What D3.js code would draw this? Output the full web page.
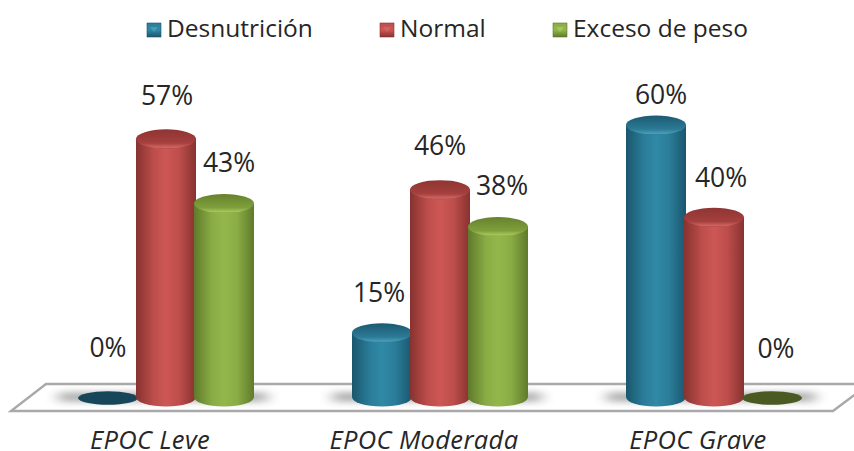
<!DOCTYPE html>
<html>
<head>
<meta charset="utf-8">
<script src="https://cdn.jsdelivr.net/npm/d3@7/dist/d3.min.js"></script>
<style>
  html, body { margin: 0; padding: 0; background: #fff; }
  svg { display: block; }
  text { font-family: "Open Sans", "Noto Sans", sans-serif; fill: #262626; }
</style>
</head>
<body>
<svg id="chart" width="854" height="451"></svg>
<script>
const categories = ["EPOC Leve", "EPOC Moderada", "EPOC Grave"];
const seriesNames = ["Desnutrición", "Normal", "Exceso de peso"];
const desnutricion = [0, 15, 60];
const normal = [57, 46, 40];
const excesoDePeso = [43, 38, 0];
const seriesValues = [desnutricion, normal, excesoDePeso];

// Per-series shading: edge, mid, light body tones, top-cap tones, flat base tone
const palette = [
  { edge: "#1b566d", mid: "#2a7d99", light: "#3089a6", capA: "#1d5a72", capB: "#2b7a96", capC: "#4a9cb8", flat: "#17465a" },
  { edge: "#873230", mid: "#bd4e4b", light: "#cd5755", capA: "#8e3533", capB: "#a5403e", capC: "#cf6664", flat: "#7a2d2b" },
  { edge: "#5f7a2b", mid: "#8aac45", light: "#94b74c", capA: "#66822e", capB: "#7f9f3c", capC: "#a8c95c", flat: "#4a5a22" }
];

const svg = d3.select("#chart");
const defs = svg.append("defs");

const x0 = d3.scaleBand().domain(d3.range(categories.length)).range([29, 851]);
const x1 = d3.scaleBand().domain(d3.range(seriesNames.length)).range([50, 224]);
const y = d3.scaleLinear().domain([0, 60]).range([402, 125]);
const baseY = 397;   // centre of the column feet on the floor
const capRy = 9.5;
const barW = 60;

palette.forEach((p, i) => {
  const body = defs.append("linearGradient").attr("id", "body" + i);
  [[0, p.edge], [0.3, p.mid], [0.5, p.light], [0.72, p.mid], [1, p.edge]].forEach(([o, c]) =>
    body.append("stop").attr("offset", o).attr("stop-color", c));
  const cap = defs.append("linearGradient").attr("id", "cap" + i).attr("x2", 0).attr("y2", 1);
  [[0, p.capA], [0.72, p.capB], [0.95, p.capC], [1, p.capB]].forEach(([o, c]) =>
    cap.append("stop").attr("offset", o).attr("stop-color", c));
  const swatch = defs.append("linearGradient").attr("id", "swatch" + i).attr("x2", 0).attr("y2", 1);
  [[0, p.mid], [0.5, p.light], [1, p.edge]].forEach(([o, c]) =>
    swatch.append("stop").attr("offset", o).attr("stop-color", c));
});
defs.append("filter").attr("id", "soft").attr("x", "-20%").attr("width", "140%").attr("y", "-80%").attr("height", "260%")
  .append("feGaussianBlur").attr("stdDeviation", "7 3");

const floorPts = [[46, 384], [869, 384], [833, 411], [11, 411]];
defs.append("clipPath").attr("id", "floorClip").append("path").attr("d", d3.line()(floorPts) + "Z");

// Floor of the 3D plot
svg.append("path")
  .attr("d", d3.line()(floorPts) + "Z")
  .attr("fill", "#fff").attr("stroke", "#a9a9a9").attr("stroke-width", 2.4).attr("stroke-linejoin", "miter");

// Soft shadow cast on the floor behind each group of columns
const shadowLayer = svg.append("g").attr("clip-path", "url(#floorClip)");
categories.forEach((c, i) => {
  shadowLayer.append("rect")
    .attr("x", x0(i) + x1(0) - 20).attr("y", 392)
    .attr("width", x1.step() * 3 + 34).attr("height", 10)
    .attr("fill", "#8a8a8a").attr("opacity", 0.65).attr("filter", "url(#soft)");
});

// Columns, drawn back to front within each group so the later series overlap
categories.forEach((c, ci) => {
  seriesValues.forEach((vals, si) => {
    const v = vals[ci];
    const cx = x0(ci) + x1(si) + x1.bandwidth() / 2;
    const top = y(v);
    const g = svg.append("g");
    if (v === 0) {
      g.append("ellipse").attr("cx", cx).attr("cy", baseY + 1)
        .attr("rx", barW / 2).attr("ry", capRy * 0.72).attr("fill", palette[si].flat);
      return;
    }
    const r = barW / 2;
    g.append("path")
      .attr("d", `M${cx - r},${top} L${cx - r},${baseY} A${r},${capRy} 0 0 0 ${cx + r},${baseY} L${cx + r},${top} Z`)
      .attr("fill", `url(#body${si})`);
    g.append("ellipse").attr("cx", cx).attr("cy", top)
      .attr("rx", r).attr("ry", capRy).attr("fill", `url(#cap${si})`);
  });
});

// Value labels; nudges follow the 3D projection of the plot
const labelNudge = [
  [[0, -54], [1, -43], [5, -40.5]],
  [[-3, -40], [0, -44], [4, -40.5]],
  [[5, -30], [7, -40], [4, -53]]
];
categories.forEach((c, ci) => {
  seriesValues.forEach((vals, si) => {
    const v = vals[ci];
    const cx = x0(ci) + x1(si) + x1.bandwidth() / 2;
    svg.append("text")
      .attr("x", cx + labelNudge[ci][si][0])
      .attr("y", y(v) + labelNudge[ci][si][1])
      .attr("dy", "0.35em").attr("text-anchor", "middle")
      .attr("font-size", 26.5).text(v + "%");
  });
});

// Category axis
const axis = d3.axisBottom(d3.scaleBand().domain(categories).range([13, 835])).tickSize(0);
const axisG = svg.append("g").attr("transform", "translate(0,431)").call(axis);
axisG.select(".domain").remove();
axisG.selectAll("text")
  .attr("font-size", 25.5).attr("font-style", "italic").attr("y", 18).attr("dy", 0)
  .style("letter-spacing", "0.35px")
  .style("font-family", '"Open Sans", "Noto Sans", sans-serif').style("fill", "#262626");

// Legend
const legendX = [147, 380, 553];
seriesNames.forEach((name, i) => {
  const g = svg.append("g").attr("transform", `translate(${legendX[i]},23)`);
  g.append("rect").attr("width", 14).attr("height", 14).attr("fill", `url(#swatch${i})`)
    .attr("stroke", palette[i].edge).attr("stroke-width", 0.6);
  g.append("path").attr("d", d3.line()([[3, 4], [11, 4], [7, 9]]) + "Z")
    .attr("fill", palette[i].capC).attr("opacity", 0.85);
  g.append("text").attr("x", 20).attr("y", 5).attr("dy", "0.35em")
    .attr("font-size", 24.5).text(name);
});
</script>
</body>
</html>
